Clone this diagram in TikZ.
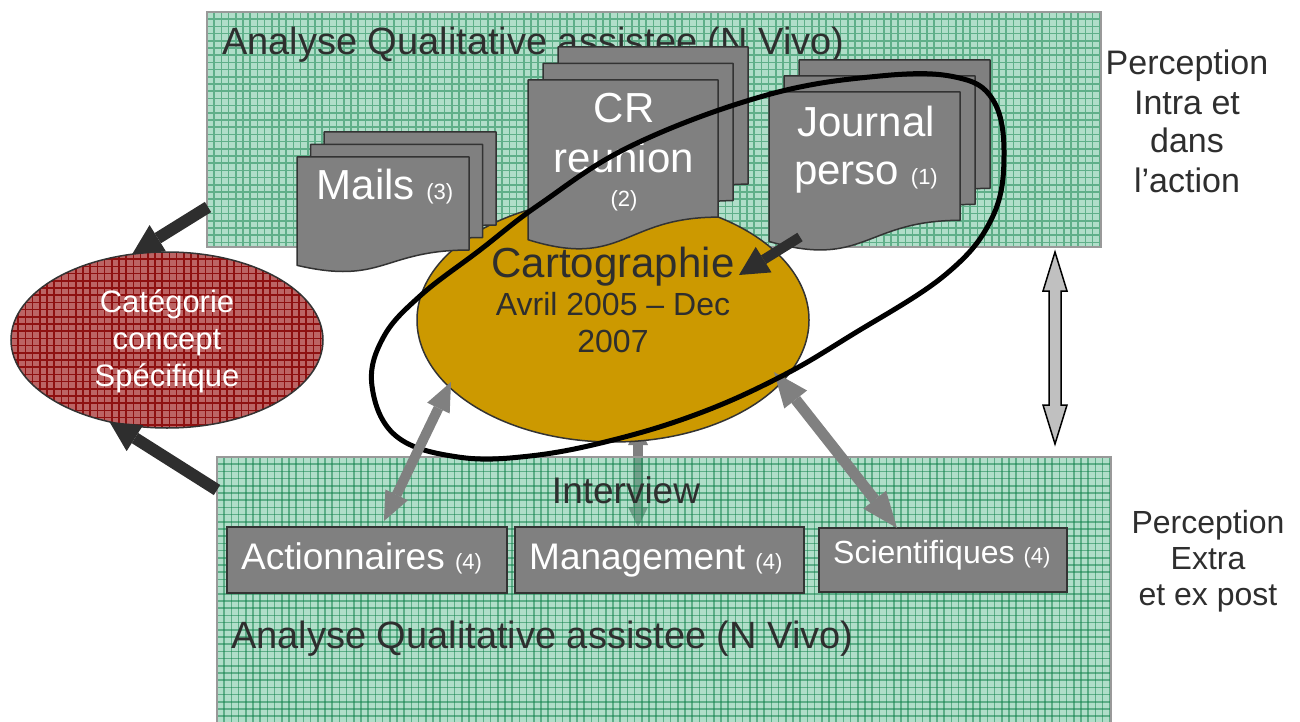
\documentclass[tikz,border=0pt]{standalone}
\usepackage{fontspec}
\setmainfont{Liberation Sans}
\usetikzlibrary{arrows.meta,shapes.geometric}

\definecolor{ink}{HTML}{2E2E2E}
\definecolor{edge}{HTML}{333333}
\definecolor{docgray}{HTML}{808080}
\definecolor{gold}{HTML}{CC9900}
\definecolor{cellgreen}{HTML}{B0DEC9}
\definecolor{linegreen}{HTML}{5FAF89}
\definecolor{cellgreenB}{HTML}{61BD93}
\definecolor{linegreenB}{HTML}{0E8049}
\definecolor{rosecell}{HTML}{BC6464}
\definecolor{roseline}{HTML}{8E1010}
\definecolor{rimgray}{HTML}{999999}
\definecolor{pale}{HTML}{C0C0C0}

\newcommand\sz[1]{\fontsize{#1}{#1}\selectfont}

% one document sheet with a wavy lower edge: x, y (top left), width, height
\newcommand\docsheet[4]{%
  \pgfmathsetmacro\dxr{#1+#3}%
  \pgfmathsetmacro\dyr{#2+0.802*#4}%
  \pgfmathsetmacro\dxm{#1+0.5*#3}%
  \pgfmathsetmacro\dyc{#2+1.107*#4}%
  \pgfmathsetmacro\dyl{#2+0.934*#4}%
  \filldraw[sheet] (#1,#2) -- (\dxr,#2) -- (\dxr,\dyr)
    .. controls (\dxm,\dyr) and (\dxm,\dyc) .. (#1,\dyl) -- cycle;}

% three stacked sheets: front x, y, width, height, step right, step up
\newcommand\docstack[6]{%
  \pgfmathsetmacro\sxa{#1+2*#5}\pgfmathsetmacro\sya{#2-2*#6}%
  \pgfmathsetmacro\sxb{#1+#5}\pgfmathsetmacro\syb{#2-#6}%
  \docsheet{\sxa}{\sya}{#3}{#4}%
  \docsheet{\sxb}{\syb}{#3}{#4}%
  \docsheet{#1}{#2}{#3}{#4}}

\begin{document}
\begin{tikzpicture}[x=1pt,y=-1pt,
  txt/.style={inner sep=0pt, anchor=base, text=ink},
  wtxt/.style={inner sep=0pt, anchor=base, text=white},
  sheet/.style={fill=docgray, draw=edge, line width=1.5pt, line join=round},
  box/.style={draw=edge, fill=docgray, line width=2pt, inner sep=0pt, minimum height=66pt},
  gridA/.style={draw=linegreen, line width=1.5pt},
  gridB/.style={draw=linegreenB, line width=1.5pt},
  gridR/.style={draw=roseline, line width=1.6pt},
  panelrim/.style={draw=rimgray, line width=2pt},
  fat/.style={draw=ink, line width=12pt, -{Triangle[length=30pt,width=31pt,line width=0pt]}},
  slim/.style={draw=ink, line width=10pt, -{Triangle[length=29pt,width=30pt,line width=0pt]}},
  twowayA/.style={draw=docgray, line width=10pt,
     {Triangle[length=29pt,width=25pt,line width=0pt]}-{Triangle[length=29pt,width=25pt,line width=0pt]}},
  twowayB/.style={draw=docgray, line width=11pt,
     {Triangle[length=35pt,width=29pt,line width=0pt]}-{Triangle[length=36pt,width=29pt,line width=0pt]}},
  twowayC/.style={draw=docgray, line width=10pt,
     {Triangle[length=20pt,width=20pt,line width=0pt]}-{Triangle[length=20pt,width=20pt,line width=0pt]}},
  ring/.style={draw=black, line width=5pt},
]
\useasboundingbox (0,0) rectangle (1300,722);

% upper analysis panel
\fill[cellgreen] (207,12) rectangle (1101,247);
\begin{scope}
  \clip (207,12) rectangle (1101,247);
  \foreach \gx in {0,7.2,...,900} \draw[gridA] ({207+\gx},12) -- ({207+\gx},247);
  \foreach \gy in {0,7.2,...,240} \draw[gridA] (207,{12+\gy}) -- (1101,{12+\gy});
\end{scope}
\draw[panelrim] (207,12) rectangle (1101,247);
\node[txt, anchor=base west, font=\sz{38}] (nvivoA) at (222,55) {Analyse Qualitative assistee (N Vivo)};

% link from the map down to the management interviews (seen through the panel)
\coordinate (m6a) at (638,425);
\coordinate (m6b) at (638,527);
\draw[twowayC] (m6a) -- (m6b);

% lower analysis panel
\begin{scope}[opacity=0.5]
  \fill[cellgreenB] (217,457) rectangle (1111,730);
  \begin{scope}
    \clip (217,457) rectangle (1111,730);
    \foreach \gx in {0,7.2,...,900} \draw[gridB] ({217+\gx},457) -- ({217+\gx},730);
    \foreach \gy in {0,7.2,...,280} \draw[gridB] (217,{457+\gy}) -- (1111,{457+\gy});
  \end{scope}
\end{scope}
\draw[panelrim] (217,457) rectangle (1111,740);

% central map
\node[ellipse, draw=edge, fill=gold, line width=1.5pt, minimum width=392pt,
      minimum height=244pt, inner sep=0pt] (carto) at (613,320) {};
\node[txt, font=\sz{42}] (cartoA) at (613,277) {Cartographie};
\node[txt, font=\sz{32}] (cartoB) at (613,315) {Avril 2005 – Dec};
\node[txt, font=\sz{32}] (cartoC) at (613,352) {2007};

% document stacks
\docstack{297}{157}{172}{116}{13.5}{12.5}
\node[wtxt, font=\sz{42}] (mails) at (385,200) {Mails {\sz{22}(3)}};

\docstack{528}{80}{190}{171}{15}{16.5}
\node[wtxt, font=\sz{42}] (crA) at (624,123) {CR};
\node[wtxt, font=\sz{42}] (crB) at (624,172) {reunion};
\node[wtxt, font=\sz{22}] (crC) at (624,207) {(2)};

\docstack{769}{92}{191}{160}{15}{16}
\node[wtxt, font=\sz{42}] (jrA) at (866,137) {Journal};
\node[wtxt, font=\sz{42}] (jrB) at (866,185) {perso {\sz{22}(1)}};

% interview groups
\node[txt, font=\sz{37}] (interview) at (626,503) {Interview};
\node[box, minimum width=280pt] (act) at (367,560) {};
\node[box, minimum width=289pt] (man) at (659.5,560) {};
\node[box, minimum width=248pt, minimum height=64pt] (sci) at (943,560) {};
\node[wtxt, anchor=base west, font=\sz{37}] (actT) at (241,569) {Actionnaires {\sz{22}(4)}};
\node[wtxt, anchor=base west, font=\sz{37}] (manT) at (529,569) {Management {\sz{22}(4)}};
\node[wtxt, anchor=base west, font=\sz{32}] (sciT) at (833,563) {Scientifiques {\sz{22}(4)}};
\node[txt, anchor=base west, font=\sz{38}] (nvivoB) at (231,648) {Analyse Qualitative assistee (N Vivo)};

% specific concept category
\node[ellipse, minimum width=312pt, minimum height=176pt, inner sep=0pt] (cat) at (167,340) {};
\fill[rosecell] (cat.center) ellipse [x radius=156pt, y radius=88pt];
\begin{scope}
  \clip (cat.center) ellipse [x radius=156pt, y radius=88pt];
  \foreach \gx in {0,7.2,...,320} \draw[gridR] ({11+\gx},250) -- ({11+\gx},430);
  \foreach \gy in {0,7.2,...,180} \draw[gridR] (10,{252+\gy}) -- (325,{252+\gy});
\end{scope}
\draw[edge, line width=1.5pt] (cat.center) ellipse [x radius=156pt, y radius=88pt];
\node[wtxt, font=\sz{31}] (catA) at (167,312) {Catégorie};
\node[wtxt, font=\sz{31}] (catB) at (167,349) {concept};
\node[wtxt, font=\sz{31}] (catC) at (167,386) {Spécifique};

% feeds into the category
\coordinate (f1) at (208,207);
\coordinate (f2) at (217,490);
\draw[fat] (f1) -- (cat.112);
\draw[fat] (f2) -- (cat.235);

% scientists link (under the ring)
\coordinate (s5a) at (774,372);
\coordinate (s5b) at (897,528);
\draw[twowayB] (s5a) -- (s5b);

% focus ring, a hand-drawn loop around the map and the main sources
\draw[ring] plot[smooth cycle, tension=0.65] coordinates {
  (372,386) (383,338) (420,296) (480,250) (540,204) (633,145) (767,95)
  (880,76) (955,77) (993,100) (1004,155) (992,218) (945,275) (850,336)
  (780,377) (700,413) (613,440) (530,456) (458,457) (396,436)};

% shareholders link (over the ring)
\coordinate (a4a) at (451,382);
\coordinate (a4b) at (384,521);
\draw[twowayA] (a4a) -- (a4b);

% personal journal feeds the map
\coordinate (j3a) at (800,237);
\coordinate (j3b) at (739,275);
\draw[slim] (j3a) -- (j3b);

% two-way link between the two perceptions
\coordinate (vt) at (1055,252);
\coordinate (vb) at (1055,444);
\filldraw[fill=pale, draw=black, line width=1.5pt, line join=miter]
  (vt) -- (1067,291) -- (1061,291) -- (1061,405) -- (1067,405) -- (vb)
  -- (1043,405) -- (1049,405) -- (1049,291) -- (1043,291) -- cycle;

% perception labels
\node[txt, font=\sz{34}] (pA) at (1187,75) {Perception};
\node[txt, font=\sz{34}] (pB) at (1187,115) {Intra et};
\node[txt, font=\sz{34}] (pC) at (1187,153) {dans};
\node[txt, font=\sz{34}] (pD) at (1187,193) {l’action};
\node[txt, font=\sz{32}] (qA) at (1208,533) {Perception};
\node[txt, font=\sz{32}] (qB) at (1208,569) {Extra};
\node[txt, font=\sz{32}] (qC) at (1208,605) {et ex post};
\end{tikzpicture}
\end{document}
